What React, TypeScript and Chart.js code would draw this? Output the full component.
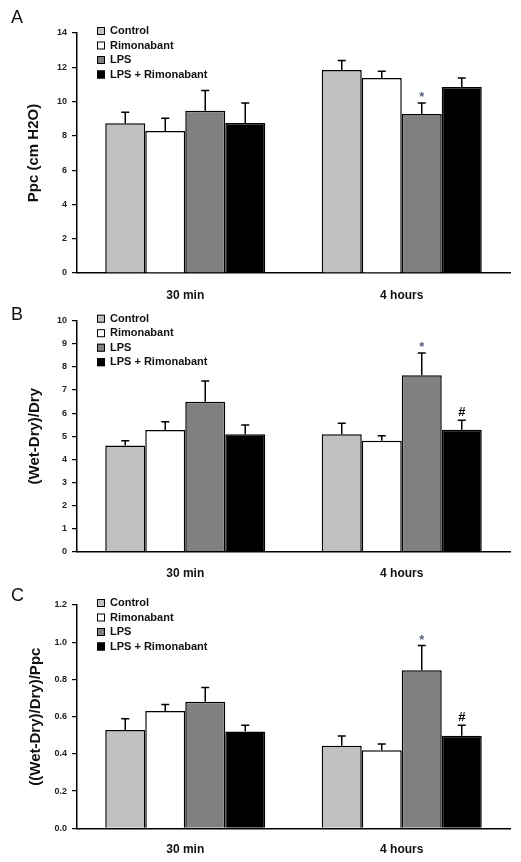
import React, { useEffect, useRef } from "react";
import { Chart, registerables } from "chart.js";

Chart.register(...registerables);

const FONT = '"Liberation Sans", Arial, Helvetica, sans-serif';

// ---- data ----
const categories = ["30 min", "4 hours"];
const seriesLabels = ["Control", "Rimonabant", "LPS", "LPS + Rimonabant"];

// Panel A: Ppc (cm H2O)
const ppcControl = [8.73, 11.84];
const ppcRimonabant = [8.28, 11.38];
const ppcLPS = [9.47, 9.28];
const ppcLPSRimonabant = [8.75, 10.85];
const ppcControlErr = [0.64, 0.55];
const ppcRimonabantErr = [0.74, 0.39];
const ppcLPSErr = [1.18, 0.64];
const ppcLPSRimonabantErr = [1.17, 0.53];
const ppcMarks = [["", ""], ["", ""], ["", "*"], ["", ""]];
const ppcTicks = [0, 2, 4, 6, 8, 10, 12, 14];

// Panel B: (Wet-Dry)/Dry
const wdControl = [4.6, 5.08];
const wdRimonabant = [5.27, 4.8];
const wdLPS = [6.49, 7.64];
const wdLPSRimonabant = [5.08, 5.28];
const wdControlErr = [0.2, 0.48];
const wdRimonabantErr = [0.36, 0.22];
const wdLPSErr = [0.9, 0.96];
const wdLPSRimonabantErr = [0.4, 0.41];
const wdMarks = [["", ""], ["", ""], ["", "*"], ["", "#"]];
const wdTicks = [0, 1, 2, 3, 4, 5, 6, 7, 8, 9, 10];

// Panel C: ((Wet-Dry)/Dry)/Ppc
const ratioControl = [0.528, 0.444];
const ratioRimonabant = [0.63, 0.419];
const ratioLPS = [0.68, 0.849];
const ratioLPSRimonabant = [0.52, 0.498];
const ratioControlErr = [0.061, 0.052];
const ratioRimonabantErr = [0.035, 0.034];
const ratioLPSErr = [0.076, 0.133];
const ratioLPSRimonabantErr = [0.034, 0.056];
const ratioMarks = [["", ""], ["", ""], ["", "*"], ["", "#"]];
const ratioTicks = [0, 0.2, 0.4, 0.6, 0.8, 1.0, 1.2];

// ---- styles ----
const barColors = ["#c0c0c0", "#ffffff", "#808080", "#000000"];

type PanelDef = {
  letter: string;
  yTitle: string;
  ticks: number[];
  decimals: number;
  values: number[][];
  errors: number[][];
  marks: string[][];
  top: number;
  height: number;
  padTop: number;
  xAxisHeight: number;
  labelPad: number;
  titlePad: number;
  letterY: number;
};

const panels: PanelDef[] = [
  {
    letter: "A",
    yTitle: "Ppc (cm H2O)",
    ticks: ppcTicks,
    decimals: 0,
    values: [ppcControl, ppcRimonabant, ppcLPS, ppcLPSRimonabant],
    errors: [ppcControlErr, ppcRimonabantErr, ppcLPSErr, ppcLPSRimonabantErr],
    marks: ppcMarks,
    top: 0,
    height: 300,
    padTop: 33,
    xAxisHeight: 27,
    labelPad: 15.5,
    titlePad: 25,
    letterY: 23,
  },
  {
    letter: "B",
    yTitle: "(Wet-Dry)/Dry",
    ticks: wdTicks,
    decimals: 0,
    values: [wdControl, wdRimonabant, wdLPS, wdLPSRimonabant],
    errors: [wdControlErr, wdRimonabantErr, wdLPSErr, wdLPSRimonabantErr],
    marks: wdMarks,
    top: 298,
    height: 282,
    padTop: 22.7,
    xAxisHeight: 28.3,
    labelPad: 14.5,
    titlePad: 26,
    letterY: 21.5,
  },
  {
    letter: "C",
    yTitle: "((Wet-Dry)/Dry)/Ppc",
    ticks: ratioTicks,
    decimals: 1,
    values: [ratioControl, ratioRimonabant, ratioLPS, ratioLPSRimonabant],
    errors: [ratioControlErr, ratioRimonabantErr, ratioLPSErr, ratioLPSRimonabantErr],
    marks: ratioMarks,
    top: 578,
    height: 284,
    padTop: 27,
    xAxisHeight: 33.7,
    labelPad: 14,
    titlePad: 27,
    letterY: 23,
  },
];

function Panel({ def }: { def: PanelDef }) {
  const ref = useRef<HTMLCanvasElement | null>(null);

  useEffect(() => {
    if (!ref.current) return;
    const overlay = {
      id: "overlay" + def.letter,
      afterDatasetsDraw(chart: any) {
        const ctx = chart.ctx;
        const yScale = chart.scales.y;
        ctx.save();
        chart.data.datasets.forEach((_ds: any, i: number) => {
          const meta = chart.getDatasetMeta(i);
          meta.data.forEach((el: any, j: number) => {
            const v = def.values[i][j];
            const e = def.errors[i][j];
            const x = el.x;
            const y0 = yScale.getPixelForValue(v);
            const y1 = yScale.getPixelForValue(v + e);
            ctx.strokeStyle = "#000";
            ctx.lineWidth = 1.5;
            ctx.beginPath();
            ctx.moveTo(x, y0);
            ctx.lineTo(x, y1);
            ctx.moveTo(x - 4, y1);
            ctx.lineTo(x + 4, y1);
            ctx.stroke();
            const m = def.marks[i][j];
            if (m) {
              ctx.font = "bold 13px " + FONT;
              ctx.textAlign = "center";
              ctx.textBaseline = "alphabetic";
              ctx.fillStyle = m === "*" ? "#55607a" : "#000";
              ctx.fillText(m, x, y1 - (m === "*" ? 2 : 4));
            }
          });
        });
        ctx.restore();
      },
      afterDraw(chart: any) {
        const ctx = chart.ctx;
        const area = chart.chartArea;
        ctx.save();
        // panel letter
        ctx.font = "18px " + FONT;
        ctx.fillStyle = "#111";
        ctx.textAlign = "left";
        ctx.textBaseline = "alphabetic";
        ctx.fillText(def.letter, 11, def.letterY);
        // legend
        ctx.font = "bold 11px " + FONT;
        ctx.textBaseline = "middle";
        seriesLabels.forEach((lab, i) => {
          const cy = area.top - 2 + i * 14.5;
          const sx = area.left + 20;
          ctx.fillStyle = barColors[i];
          ctx.fillRect(sx, cy - 4, 8, 8);
          ctx.strokeStyle = "#000";
          ctx.lineWidth = 1;
          ctx.strokeRect(sx + 0.5, cy - 3.5, 7, 7);
          ctx.fillStyle = "#111";
          ctx.fillText(lab, sx + 13, cy);
        });
        ctx.restore();
      },
    };

    const chart = new Chart(ref.current, {
      type: "bar",
      data: {
        labels: categories,
        datasets: seriesLabels.map((lab, i) => ({
          label: lab,
          data: def.values[i],
          backgroundColor: barColors[i],
          borderColor: "#000",
          borderWidth: 1.5,
          categoryPercentage: 0.739,
          barPercentage: 1.0,
        })),
      },
      options: {
        animation: false,
        responsive: false,
        devicePixelRatio: 1,
        layout: { padding: { top: def.padTop, right: 11, bottom: 0, left: 0 } },
        plugins: {
          legend: { display: false },
          tooltip: { enabled: false },
          title: { display: false },
        },
        scales: {
          x: {
            grid: { display: false, drawTicks: false },
            border: { display: true, color: "#000", width: 1.5 },
            ticks: {
              padding: def.labelPad,
              color: "#111",
              font: { family: FONT, size: 12, weight: "bold" },
            },
            afterFit: (scale: any) => {
              scale.height = def.xAxisHeight;
            },
          },
          y: {
            min: def.ticks[0],
            max: def.ticks[def.ticks.length - 1],
            afterBuildTicks: (scale: any) => {
              scale.ticks = def.ticks.map((v) => ({ value: v }));
            },
            grid: {
              display: true,
              drawOnChartArea: false,
              drawTicks: true,
              tickLength: 5,
              color: "#000",
              lineWidth: 1.2,
            },
            border: { display: true, color: "#000", width: 1.5 },
            ticks: {
              padding: 5,
              color: "#222",
              font: { family: FONT, size: 9, weight: "bold" },
              callback: (v: any) => Number(v).toFixed(def.decimals),
            },
            title: {
              display: true,
              text: def.yTitle,
              color: "#111",
              padding: { top: def.titlePad, bottom: 0 },
              font: { family: FONT, size: 15, weight: "bold" },
            },
            afterFit: (scale: any) => {
              scale.width = 77;
            },
          },
        },
      },
      plugins: [overlay],
    } as any);
    return () => chart.destroy();
  }, [def]);

  return (
    <canvas
      ref={ref}
      width={521}
      height={def.height}
      style={{ position: "absolute", left: 0, top: def.top, width: 521, height: def.height }}
    />
  );
}

export default function App() {
  return (
    <div style={{ position: "absolute", left: 0, top: 0, width: 521, height: 862, background: "#fff" }}>
      {panels.map((p) => (
        <Panel key={p.letter} def={p} />
      ))}
    </div>
  );
}
